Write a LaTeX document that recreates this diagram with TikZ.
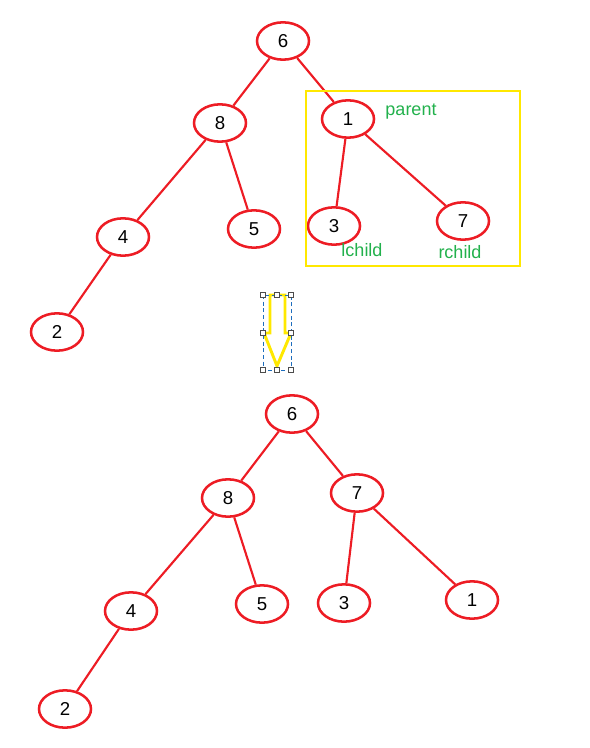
\documentclass[tikz,border=0pt]{standalone}
\usepackage{fontspec}
\setmainfont{Liberation Sans}
\usetikzlibrary{shapes.geometric}

\definecolor{treered}{RGB}{237,28,36}
\definecolor{boxyellow}{RGB}{255,232,0}
\definecolor{labelgreen}{RGB}{34,177,76}
\definecolor{selblue}{RGB}{30,110,190}

\tikzset{
  treenode/.style={ellipse, draw=treered, line width=1.9pt, minimum width=39pt, minimum height=28pt, inner sep=0pt, font=\fontsize{14}{16}\selectfont},
  treeedge/.style={draw=treered, line width=1.6pt},
  rolelabel/.style={text=labelgreen, font=\fontsize{13.5}{16}\selectfont},
  handle/.style={draw=black!70, fill=white, line width=0.5pt, minimum size=3.5pt, inner sep=0pt, rectangle}
}

\begin{document}
\begin{tikzpicture}[x=0.75pt,y=0.75pt,yscale=-1,xscale=1]
\useasboundingbox (0,0) rectangle (589,748);

%Top tree
\node[treenode] (t6) at (283,41) {6};
\node[treenode] (t8) at (220,123) {8};
\node[treenode] (t1) at (348,119) {1};
\node[treenode] (t4) at (123,237) {4};
\node[treenode] (t5) at (254,229) {5};
\node[treenode] (t3) at (334,226) {3};
\node[treenode] (t7) at (463,221) {7};
\node[treenode] (t2) at (57,332) {2};

\draw[treeedge] (t6) -- (t8);
\draw[treeedge] (t6) -- (t1);
\draw[treeedge] (t8) -- (t4);
\draw[treeedge] (t8) -- (t5);
\draw[treeedge] (t1) -- (t3);
\draw[treeedge] (t1) -- (t7);
\draw[treeedge] (t4) -- (t2);

%Highlight box and labels
\draw[boxyellow, line width=2.2pt] (306,91) rectangle (520,266);
\node[rolelabel] (parent) at (411,112) {parent};
\node[rolelabel] (lchild) at (362,250) {lchild};
\node[rolelabel] (rchild) at (460,252) {rchild};

%Down arrow
\draw[boxyellow, line width=2.2pt, line join=miter] (270,295) -- (285,295) -- (285,333) -- (291,333) -- (277,366) -- (264,333) -- (270,333) -- cycle;

%Selection frame
\draw[selblue, dashed, line width=0.5pt, dash pattern=on 3pt off 2pt] (263,295) rectangle (291,370);
\foreach \hx/\hy in {263/295,277/295,291/295,263/333,291/333,263/370,277/370,291/370}
  \node[handle] at (\hx,\hy) {};

%Bottom tree
\node[treenode] (b6) at (292,414) {6};
\node[treenode] (b8) at (228,498) {8};
\node[treenode] (b7) at (357,493) {7};
\node[treenode] (b4) at (131,611) {4};
\node[treenode] (b5) at (262,604) {5};
\node[treenode] (b3) at (344,603) {3};
\node[treenode] (b1) at (472,600) {1};
\node[treenode] (b2) at (65,709) {2};

\draw[treeedge] (b6) -- (b8);
\draw[treeedge] (b6) -- (b7);
\draw[treeedge] (b8) -- (b4);
\draw[treeedge] (b8) -- (b5);
\draw[treeedge] (b7) -- (b3);
\draw[treeedge] (b7) -- (b1);
\draw[treeedge] (b4) -- (b2);

\end{tikzpicture}
\end{document}
